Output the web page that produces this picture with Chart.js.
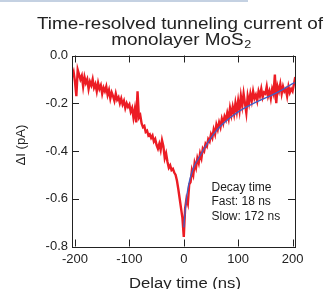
<!DOCTYPE html>
<html>
<head>
<meta charset="utf-8">
<title>Time-resolved tunneling current</title>
<script src="https://cdn.jsdelivr.net/npm/chart.js@4.4.1/dist/chart.umd.min.js"></script>
<style>
  html, body { margin: 0; padding: 0; background: #fff; }
  #wrap { position: relative; width: 326px; height: 289px; overflow: hidden; }
  #topline { position: absolute; left: 0; top: 0; width: 248px; height: 2px; background: #c4d1e2; }
</style>
</head>
<body>
<div id="wrap">
  <canvas id="tunnel_chart" width="326" height="289"></canvas>
  <div id="topline"></div>
</div>
<script>
// measured trace: delay from -205 ns, one sample every 2.5 ns
const delayStart = -205;
const delayStep = 2.5;
const currentPA = [
  -0.09, -0.07, -0.11, -0.17, -0.06, -0.08, -0.10, -0.085, -0.13, -0.09,
  -0.115, -0.10, -0.14, -0.11, -0.125, -0.10, -0.135, -0.12, -0.15, -0.115,
  -0.14, -0.125, -0.16,
  -0.135, -0.15, -0.13, -0.165, -0.145, -0.18, -0.155, -0.17, -0.19, -0.16,
  -0.185, -0.175, -0.2, -0.18, -0.205, -0.19, -0.22, -0.2, -0.215, -0.205,
  -0.235, -0.22, -0.26, -0.225, -0.28, -0.15, -0.26, -0.25, -0.285, -0.3,
  -0.295, -0.32, -0.315, -0.335, -0.33, -0.345, -0.335, -0.36, -0.35, -0.375,
  -0.39, -0.37, -0.395, -0.355, -0.38, -0.43, -0.41, -0.445, -0.47, -0.46,
  -0.48, -0.475, -0.49, -0.5, -0.525, -0.56, -0.6, -0.64, -0.68,
  -0.76,
  -0.64, -0.6, -0.62, -0.54, -0.53, -0.48, -0.5, -0.45, -0.47, -0.43,
  -0.45, -0.41, -0.43, -0.39, -0.4, -0.37, -0.38, -0.35, -0.36, -0.33,
  -0.345, -0.31, -0.33, -0.29, -0.31, -0.28, -0.3, -0.265, -0.285, -0.255,
  -0.27, -0.24, -0.265, -0.22, -0.25, -0.215, -0.245, -0.2, -0.235, -0.19,
  -0.23, -0.17, -0.21, -0.16, -0.2, -0.24, -0.17, -0.2, -0.16, -0.19,
  -0.15, -0.18, -0.165, -0.19, -0.15, -0.17, -0.14, -0.175, -0.155, -0.16,
  -0.13, -0.17, -0.15, -0.18, -0.14, -0.16, -0.08, -0.2, -0.13, -0.15,
  -0.12, -0.16, -0.13, -0.15, -0.14, -0.17, -0.13, -0.155, -0.14, -0.15,
  -0.12, -0.09
];

// double exponential fit (blue)
const fitDelay = [0, 3, 6, 10, 15, 20, 30, 40, 50, 60, 70, 80, 90, 100, 120, 140, 160, 180, 200, 204];
const fitPA = [-0.72, -0.64, -0.58, -0.53, -0.49, -0.46, -0.42, -0.38, -0.345, -0.315,
  -0.29, -0.27, -0.252, -0.236, -0.21, -0.188, -0.168, -0.145, -0.118, -0.113];

const xTicks = [-200, -100, 0, 100, 200];
const yTicks = [0, -0.2, -0.4, -0.6, -0.8];
const titleLines = ["Time-resolved tunneling current of", "monolayer MoS"];
const decayLines = ["Decay time", "Fast: 18 ns", "Slow: 172 ns"];

const FONT = "'Liberation Sans', Arial, Helvetica, sans-serif";

// draw text squeezed/stretched to a given width
function fitText(ctx, text, x, y, size, width, align) {
  ctx.save();
  ctx.font = size + "px " + FONT;
  const w = ctx.measureText(text).width;
  ctx.translate(x, y);
  ctx.scale(width / w, 1);
  ctx.textAlign = align;
  ctx.fillText(text, 0, 0);
  ctx.restore();
  return width;
}

const framePlugin = {
  id: "frameTicks",
  afterDraw: (chart) => {
    const { ctx, chartArea: a, scales } = chart;
    const len = 7;
    ctx.save();
    ctx.strokeStyle = "#222";
    ctx.lineWidth = 1;
    ctx.strokeRect(Math.round(a.left) + 0.5, Math.round(a.top) + 0.5,
      Math.round(a.right - a.left), Math.round(a.bottom - a.top));
    ctx.beginPath();
    xTicks.forEach((v) => {
      const px = Math.round(scales.x.getPixelForValue(v)) + 0.5;
      ctx.moveTo(px, a.top); ctx.lineTo(px, a.top + len);
      ctx.moveTo(px, a.bottom); ctx.lineTo(px, a.bottom - len);
    });
    yTicks.forEach((v) => {
      const py = Math.round(scales.y.getPixelForValue(v)) + 0.5;
      ctx.moveTo(a.left, py); ctx.lineTo(a.left + len, py);
      ctx.moveTo(a.right, py); ctx.lineTo(a.right - len, py);
    });
    ctx.stroke();
    ctx.restore();
  },
};

const textPlugin = {
  id: "chartTexts",
  afterDraw: (chart) => {
    const { ctx } = chart;
    ctx.save();
    ctx.fillStyle = "#222";
    ctx.textBaseline = "alphabetic";

    // title, two lines
    fitText(ctx, titleLines[0], 180, 29, 16.5, 286, "center");
    ctx.font = "16.5px " + FONT;
    const scaleX = 286 / ctx.measureText(titleLines[0]).width;
    const w2 = ctx.measureText(titleLines[1]).width * scaleX;
    ctx.font = "11px " + FONT;
    const wSub = ctx.measureText("2").width * scaleX;
    const startX = 181 - (w2 + wSub) / 2;
    fitText(ctx, titleLines[1], startX, 44.5, 16.5, w2, "left");
    fitText(ctx, "2", startX + w2 + 0.5, 48, 11, wSub, "left");

    // axis titles
    fitText(ctx, "Delay time (ns)", 185, 288, 14, 112, "center");
    ctx.save();
    ctx.translate(24.5, 145);
    ctx.rotate(-Math.PI / 2);
    fitText(ctx, "\u0394I (pA)", 0, 0, 13.5, 41, "center");
    ctx.restore();

    // decay time note
    ctx.fillStyle = "#1a1a1a";
    ctx.font = "12px " + FONT;
    ctx.textAlign = "left";
    decayLines.forEach((t, i) => {
      ctx.fillText(t, 211.5, 190.5 + i * 14.5);
    });
    ctx.restore();
  },
};

const tracePoints = currentPA.map((v, i) => ({ x: delayStart + i * delayStep, y: v }));
const fitPoints = fitDelay.map((x, i) => ({ x: x, y: fitPA[i] }));

let chart = new Chart(document.getElementById("tunnel_chart"), {
  type: "line",
  data: {
    datasets: [
      {
        label: "Fit",
        data: fitPoints,
        borderColor: "#3f5fc8",
        borderWidth: 1.3,
        pointRadius: 0,
        cubicInterpolationMode: "monotone",
        order: 0,
      },
      {
        label: "Tunneling current",
        data: tracePoints,
        borderColor: "#ec1c24",
        borderWidth: 2.4,
        pointRadius: 0,
        tension: 0,
        order: 1,
      },
    ],
  },
  options: {
    responsive: false,
    animation: false,
    devicePixelRatio: 1,
    layout: { padding: { top: 55.5, right: 31, left: 0, bottom: 0 } },
    plugins: {
      legend: { display: false },
      title: { display: false },
      tooltip: { enabled: false },
    },
    scales: {
      x: {
        type: "linear",
        min: -205.5,
        max: 204.5,
        grid: { display: false, drawTicks: false },
        border: { display: false },
        afterBuildTicks: (scale) => {
          scale.ticks = xTicks.map((v) => ({ value: v }));
        },
        afterFit: (scale) => {
          scale.height = 42.5;
        },
        ticks: {
          padding: 5,
          color: "#222",
          font: { family: FONT, size: 13 },
          maxRotation: 0,
          callback: (v) => String(v),
        },
      },
      y: {
        type: "linear",
        min: -0.8,
        max: 0,
        grid: { display: false, drawTicks: false },
        border: { display: false },
        afterBuildTicks: (scale) => {
          scale.ticks = yTicks.map((v) => ({ value: v }));
        },
        afterFit: (scale) => {
          scale.width = 72;
        },
        ticks: {
          padding: 4,
          color: "#222",
          font: { family: FONT, size: 13 },
          callback: (v) => v.toFixed(1),
        },
      },
    },
  },
  plugins: [framePlugin, textPlugin],
});
</script>
</body>
</html>
